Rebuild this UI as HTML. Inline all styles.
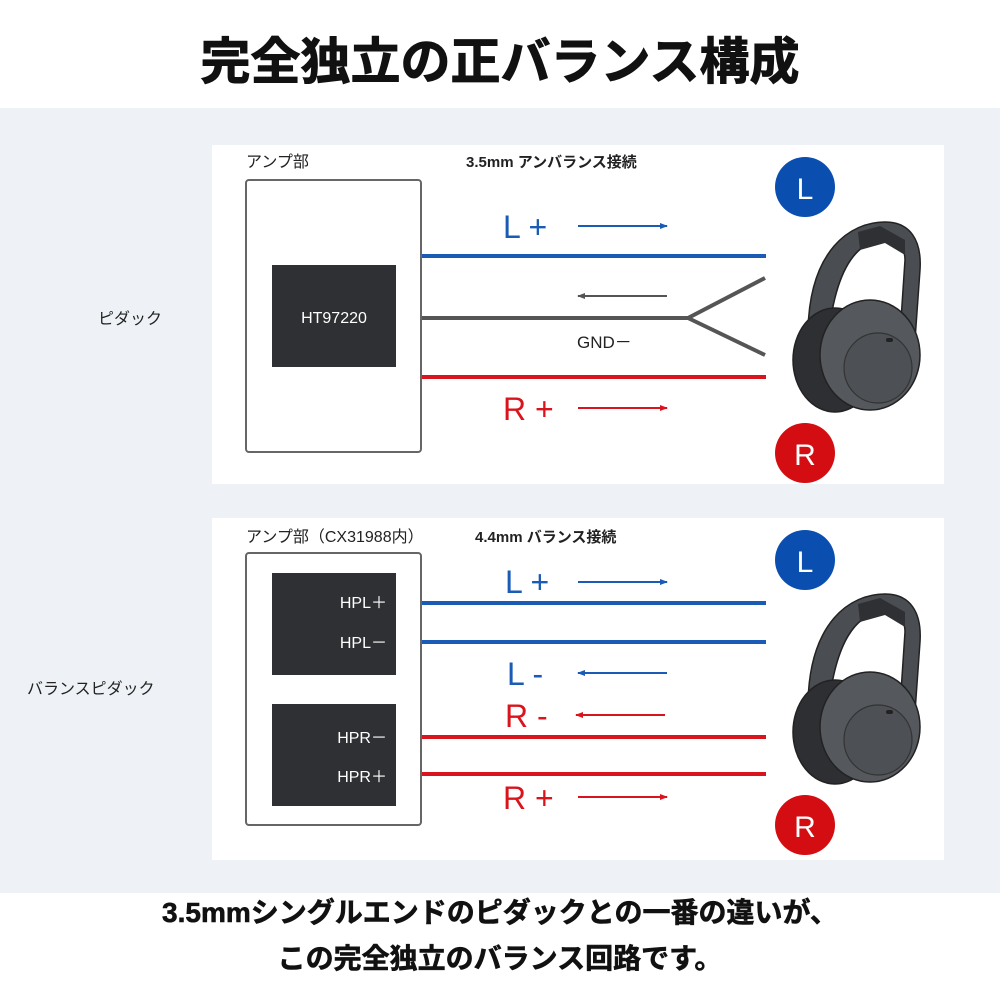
<!DOCTYPE html>
<html><head><meta charset="utf-8"><style>
body{margin:0;width:1000px;height:1000px;overflow:hidden;background:#fff}
svg{display:block}
text{font-family:"Liberation Sans","Noto Sans CJK JP",sans-serif}
</style></head><body>
<svg width="1000" height="1000" viewBox="0 0 1000 1000">
<defs>
<marker id="ab" markerWidth="8" markerHeight="8" refX="7" refY="4" orient="auto" markerUnits="userSpaceOnUse"><path d="M0,1 L8,4 L0,7z" fill="#1a5bb5"/></marker>
<marker id="ar" markerWidth="8" markerHeight="8" refX="7" refY="4" orient="auto" markerUnits="userSpaceOnUse"><path d="M0,1 L8,4 L0,7z" fill="#d9141c"/></marker>
<marker id="ag" markerWidth="8" markerHeight="8" refX="7" refY="4" orient="auto" markerUnits="userSpaceOnUse"><path d="M0,1 L8,4 L0,7z" fill="#555"/></marker>
<g id="hp">
<path d="M808,330 C810,250 850,222 885,222 C910,222 922,240 920,270 L915,340 L900,335 L905,260 C905,245 895,238 880,240 C855,244 835,270 828,340 Z" fill="#4a4d52" stroke="#222" stroke-width="1.5"/>
<path d="M858,232 L880,226 L905,240 L905,255 L885,243 L860,250Z" fill="#2f3034"/>
<ellipse cx="835" cy="360" rx="42" ry="52" fill="#2e2f33" stroke="#222" stroke-width="1.5"/>
<ellipse cx="870" cy="355" rx="50" ry="55" fill="#55585d" stroke="#222" stroke-width="1.5"/>
<ellipse cx="878" cy="368" rx="34" ry="35" fill="#4d5055" stroke="#333" stroke-width="1.2"/>
<rect x="886" y="338" width="7" height="4" rx="2" fill="#222"/>
</g>
</defs>
<rect x="0" y="108" width="1000" height="785" fill="#eef2f6"/>
<text x="500" y="79" font-size="50" font-weight="bold" text-anchor="middle" fill="#111" stroke="#111" stroke-width="1">完全独立の正バランス構成</text>
<rect x="212" y="145" width="732" height="339" fill="#fff"/>
<text x="246" y="167" font-size="16" fill="#222">アンプ部</text>
<text x="466" y="167" font-size="15" font-weight="bold" fill="#222">3.5mm アンバランス接続</text>
<rect x="246" y="180" width="175" height="272" rx="3" fill="#fff" stroke="#666" stroke-width="2"/>
<rect x="272" y="265" width="124" height="102" fill="#2f3033"/>
<text x="334" y="323" font-size="16" fill="#fff" text-anchor="middle">HT97220</text>
<line x1="422" y1="256" x2="766" y2="256" stroke="#1a5bb5" stroke-width="4"/>
<polyline points="422,318 688,318 765,278" fill="none" stroke="#555" stroke-width="4"/>
<line x1="688" y1="318" x2="765" y2="355" stroke="#555" stroke-width="4"/>
<line x1="422" y1="377" x2="766" y2="377" stroke="#d9141c" stroke-width="4"/>
<text x="503" y="238" font-size="32" fill="#1a5bb5">L +</text>
<line x1="578" y1="226" x2="667" y2="226" stroke="#1a5bb5" stroke-width="2" marker-end="url(#ab)"/>
<line x1="667" y1="296" x2="578" y2="296" stroke="#555" stroke-width="2" marker-end="url(#ag)"/>
<text x="577" y="348" font-size="17" fill="#222">GND－</text>
<text x="503" y="420" font-size="32" fill="#d9141c">R +</text>
<line x1="578" y1="408" x2="667" y2="408" stroke="#d9141c" stroke-width="2" marker-end="url(#ar)"/>
<circle cx="805" cy="187" r="30" fill="#0a4fb0"/><text x="805" y="199" font-size="30" fill="#fff" text-anchor="middle">L</text>
<circle cx="805" cy="453" r="30" fill="#d40d12"/><text x="805" y="465" font-size="30" fill="#fff" text-anchor="middle">R</text>
<use href="#hp"/>
<text x="98" y="324" font-size="16" fill="#222">ピダック</text>
<rect x="212" y="518" width="732" height="342" fill="#fff"/>
<text x="246" y="542" font-size="16" fill="#222">アンプ部（CX31988内）</text>
<text x="475" y="542" font-size="15" font-weight="bold" fill="#222">4.4mm バランス接続</text>
<rect x="246" y="553" width="175" height="272" rx="3" fill="#fff" stroke="#666" stroke-width="2"/>
<rect x="272" y="573" width="124" height="102" fill="#2f3033"/>
<rect x="272" y="704" width="124" height="102" fill="#2f3033"/>
<text x="387" y="608" font-size="16" fill="#fff" text-anchor="end">HPL＋</text>
<text x="387" y="648" font-size="16" fill="#fff" text-anchor="end">HPL－</text>
<text x="387" y="743" font-size="16" fill="#fff" text-anchor="end">HPR－</text>
<text x="387" y="782" font-size="16" fill="#fff" text-anchor="end">HPR＋</text>
<line x1="422" y1="603" x2="766" y2="603" stroke="#1a5bb5" stroke-width="4"/>
<line x1="422" y1="642" x2="766" y2="642" stroke="#1a5bb5" stroke-width="4"/>
<line x1="422" y1="737" x2="766" y2="737" stroke="#d9141c" stroke-width="4"/>
<line x1="422" y1="774" x2="766" y2="774" stroke="#d9141c" stroke-width="4"/>
<text x="505" y="593" font-size="32" fill="#1a5bb5">L +</text>
<line x1="578" y1="582" x2="667" y2="582" stroke="#1a5bb5" stroke-width="2" marker-end="url(#ab)"/>
<text x="507" y="685" font-size="32" fill="#1a5bb5">L -</text>
<line x1="667" y1="673" x2="578" y2="673" stroke="#1a5bb5" stroke-width="2" marker-end="url(#ab)"/>
<text x="505" y="727" font-size="32" fill="#d9141c">R -</text>
<line x1="665" y1="715" x2="576" y2="715" stroke="#d9141c" stroke-width="2" marker-end="url(#ar)"/>
<text x="503" y="809" font-size="32" fill="#d9141c">R +</text>
<line x1="578" y1="797" x2="667" y2="797" stroke="#d9141c" stroke-width="2" marker-end="url(#ar)"/>
<circle cx="805" cy="560" r="30" fill="#0a4fb0"/><text x="805" y="572" font-size="30" fill="#fff" text-anchor="middle">L</text>
<circle cx="805" cy="825" r="30" fill="#d40d12"/><text x="805" y="837" font-size="30" fill="#fff" text-anchor="middle">R</text>
<use href="#hp" transform="translate(0,372)"/>
<text x="27" y="694" font-size="16" fill="#222">バランスピダック</text>
<text x="500" y="922" font-size="28" font-weight="bold" text-anchor="middle" fill="#111" stroke="#111" stroke-width="0.6">3.5mmシングルエンドのピダックとの一番の違いが、</text>
<text x="500" y="968" font-size="28" font-weight="bold" text-anchor="middle" fill="#111" stroke="#111" stroke-width="0.6">この完全独立のバランス回路です。</text>
</svg>
</body></html>
